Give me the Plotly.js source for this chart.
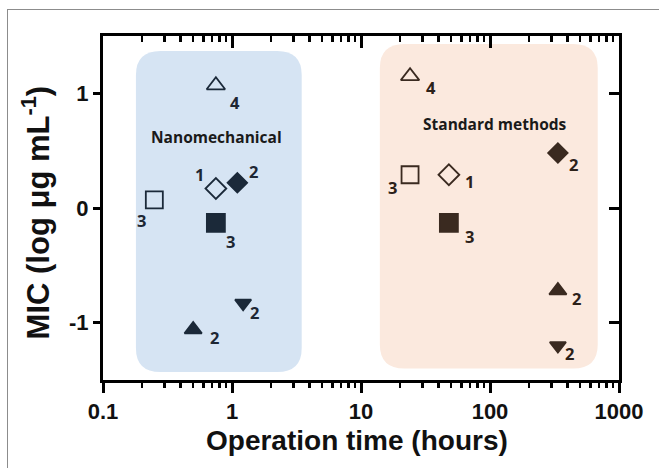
<!DOCTYPE html>
<html><head><meta charset="utf-8">
<script src="https://cdn.plot.ly/plotly-3.0.1.min.js"></script>
<style>
body{margin:0;background:#fff}
#wrap{position:relative;width:659px;height:468px;overflow:hidden}
#chart{width:659px;height:468px}
#frame{position:absolute;left:7px;top:9px;right:-2px;bottom:-2px;border-left:1px solid #8c8c8c;border-top:1px solid #8c8c8c;pointer-events:none}
</style>
</head><body>
<div id="wrap"><div id="chart"></div><div id="frame"></div></div>
<script>
// ---------- data ----------
const nanoTime   = [0.75, 0.75, 1.1, 0.25, 0.75, 1.22, 0.5];
const nanoMIC    = [1.07, 0.17, 0.22, 0.07, -0.13, -0.83, -1.06];
const nanoSymbol = ['triangle-up-open','diamond-open','diamond','square-open','square','triangle-down','triangle-up'];
const nanoRef    = ['4','1','2','3','3','2','2'];

const stdTime   = [24, 48, 336, 24, 48, 336, 336];
const stdMIC    = [1.15, 0.29, 0.48, 0.29, -0.13, -0.72, -1.2];
const stdSymbol = ['triangle-up-open','diamond-open','diamond','square-open','square','triangle-up','triangle-down'];
const stdRef    = ['4','1','2','3','3','2','2'];

const groupNames = ['Nanomechanical', 'Standard methods'];
const xTickVals = [0.1, 1, 10, 100, 1000];
const xTickText = ['0.1', '1', '10', '100', '1000'];
const yTickVals = [-1, 0, 1];
const yTickText = ['-1', '0', '1'];

// ---------- styling ----------
const nanoColor = '#1b2939';
const stdColor  = '#3a2a20';
const symbolSize = {'triangle-up-open':16,'diamond-open':16,'diamond':15,'square-open':17,'square':18,'triangle-up':15,'triangle-down':14};
const nanoLabelOffset = [[19,17],[-16,-14],[16,-11],[-13,21],[15,19],[11,9],[21,8]];
const stdLabelOffset  = [[21,11],[21,7],[16,12],[-18,13],[21,14],[19,8],[12,8]];

const minorVals = [];
for (let k = -1; k < 3; k++) for (let d = 2; d <= 9; d++) minorVals.push(d * Math.pow(10, k));

// rounded rectangle path in data coordinates (log x)
function roundRect(t0, t1, m0, m1) {
  const rx = 0.19, ry = 0.21;              // corner radius in decades / MIC units
  const a = Math.log10(t0), b = Math.log10(t1);
  const X = v => Math.pow(10, v);
  return 'M' + X(a+rx) + ',' + m0 + ' L' + X(b-rx) + ',' + m0 +
         ' Q' + X(b) + ',' + m0 + ' ' + X(b) + ',' + (m0+ry) +
         ' L' + X(b) + ',' + (m1-ry) +
         ' Q' + X(b) + ',' + m1 + ' ' + X(b-rx) + ',' + m1 +
         ' L' + X(a+rx) + ',' + m1 +
         ' Q' + X(a) + ',' + m1 + ' ' + X(a) + ',' + (m1-ry) +
         ' L' + X(a) + ',' + (m0+ry) +
         ' Q' + X(a) + ',' + m0 + ' ' + X(a+rx) + ',' + m0 + ' Z';
}

function markerTrace(name, xs, ys, syms, color) {
  return {
    name: name, x: xs, y: ys, type: 'scatter', mode: 'markers', showlegend: false,
    marker: { symbol: syms, size: syms.map(s => symbolSize[s]), color: color, opacity: 1,
              line: { color: color, width: 1.8 } },
    cliponaxis: false
  };
}

const traces = [
  markerTrace(groupNames[0], nanoTime, nanoMIC, nanoSymbol, nanoColor),
  markerTrace(groupNames[1], stdTime, stdMIC, stdSymbol, stdColor),
  { x: [], y: [], xaxis: 'x2', yaxis: 'y2', type: 'scatter', mode: 'markers', showlegend: false, hoverinfo: 'skip' }
];

const numFont = { family: 'Open Sans, sans-serif', size: 16.5, weight: 'bold' };
const annotations = [];
function addRefLabels(xs, ys, refs, offs, color) {
  refs.forEach((r, i) => annotations.push({
    x: Math.log10(xs[i]), y: ys[i], xref: 'x', yref: 'y', text: r, showarrow: false,
    xshift: offs[i][0], yshift: -offs[i][1],
    font: Object.assign({}, numFont, { color: color })
  }));
}
addRefLabels(nanoTime, nanoMIC, nanoRef, nanoLabelOffset, '#1e2733');
addRefLabels(stdTime, stdMIC, stdRef, stdLabelOffset, '#2c2119');

const groupFont = { family: 'Open Sans, sans-serif', size: 15.5, weight: 'bold', color: '#1a1a1a' };
annotations.push({ x: Math.log10(0.76), y: 0.615, xref: 'x', yref: 'y', text: groupNames[0], showarrow: false, font: groupFont });
annotations.push({ x: Math.log10(110), y: 0.73, xref: 'x', yref: 'y', text: groupNames[1], showarrow: false, font: groupFont });

// axis titles
annotations.push({ xref: 'paper', yref: 'paper', x: 0.493, y: -0.177, xanchor: 'center', yanchor: 'middle',
  text: 'Operation time (hours)', showarrow: false,
  font: { family: 'Liberation Sans, Arial, sans-serif', size: 28, weight: 'bold', color: '#111' } });
annotations.push({ xref: 'paper', yref: 'paper', x: -0.128, y: 0.487, xanchor: 'center', yanchor: 'middle',
  text: 'MIC (log μg mL<sup>-1</sup>)', textangle: -90, showarrow: false,
  font: { family: 'Liberation Sans, Arial, sans-serif', size: 31, weight: 'bold', color: '#111' } });

const tickFont = { family: 'Liberation Sans, Arial, sans-serif', size: 22, weight: 'bold', color: '#111' };

const layout = {
  width: 659, height: 468,
  margin: { l: 103, r: 40, t: 36, b: 88 },
  paper_bgcolor: 'rgba(0,0,0,0)', plot_bgcolor: 'rgba(0,0,0,0)',
  showlegend: false,
  xaxis: {
    type: 'log', range: [-1, 3], autorange: false,
    tickmode: 'array', tickvals: xTickVals, ticktext: xTickText,
    ticks: 'outside', ticklen: 10, tickwidth: 3, tickcolor: '#000',
    minor: { tickmode: 'array', tickvals: minorVals, ticks: 'outside', ticklen: 5, tickwidth: 2.5, tickcolor: '#000', showgrid: false },
    showline: true, linewidth: 3, linecolor: '#000', showgrid: false, zeroline: false,
    tickfont: tickFont
  },
  xaxis2: {
    type: 'log', range: [-1, 3], autorange: false, overlaying: 'x', side: 'top', anchor: 'y2',
    tickmode: 'array', tickvals: xTickVals, showticklabels: false,
    ticks: 'inside', ticklen: 12, tickwidth: 3, tickcolor: '#000',
    minor: { tickmode: 'array', tickvals: minorVals, ticks: 'inside', ticklen: 6, tickwidth: 2.5, tickcolor: '#000', showgrid: false },
    showline: true, linewidth: 3, linecolor: '#000', showgrid: false, zeroline: false
  },
  yaxis: {
    range: [-1.5, 1.5], autorange: false,
    tickmode: 'array', tickvals: yTickVals, ticktext: yTickText,
    ticks: 'outside', ticklen: 7, tickwidth: 3, tickcolor: '#000',
    showline: true, linewidth: 3, linecolor: '#000', showgrid: false, zeroline: false,
    tickfont: tickFont
  },
  yaxis2: {
    range: [-1.5, 1.5], autorange: false, overlaying: 'y', side: 'right', anchor: 'x2',
    tickmode: 'array', tickvals: yTickVals, showticklabels: false,
    ticks: 'inside', ticklen: 10, tickwidth: 3, tickcolor: '#000',
    showline: true, linewidth: 3, linecolor: '#000', showgrid: false, zeroline: false
  },
  shapes: [
    { type: 'path', xref: 'x', yref: 'y', layer: 'below', path: roundRect(0.18, 3.47, -1.43, 1.37),
      fillcolor: '#d6e4f3', line: { width: 0 } },
    { type: 'path', xref: 'x', yref: 'y', layer: 'below', path: roundRect(14, 684, -1.40, 1.43),
      fillcolor: '#fbe9de', line: { width: 0 } }
  ],
  annotations: annotations
};

Plotly.newPlot('chart', traces, layout, { displayModeBar: false, staticPlot: true });
</script>
</body></html>
